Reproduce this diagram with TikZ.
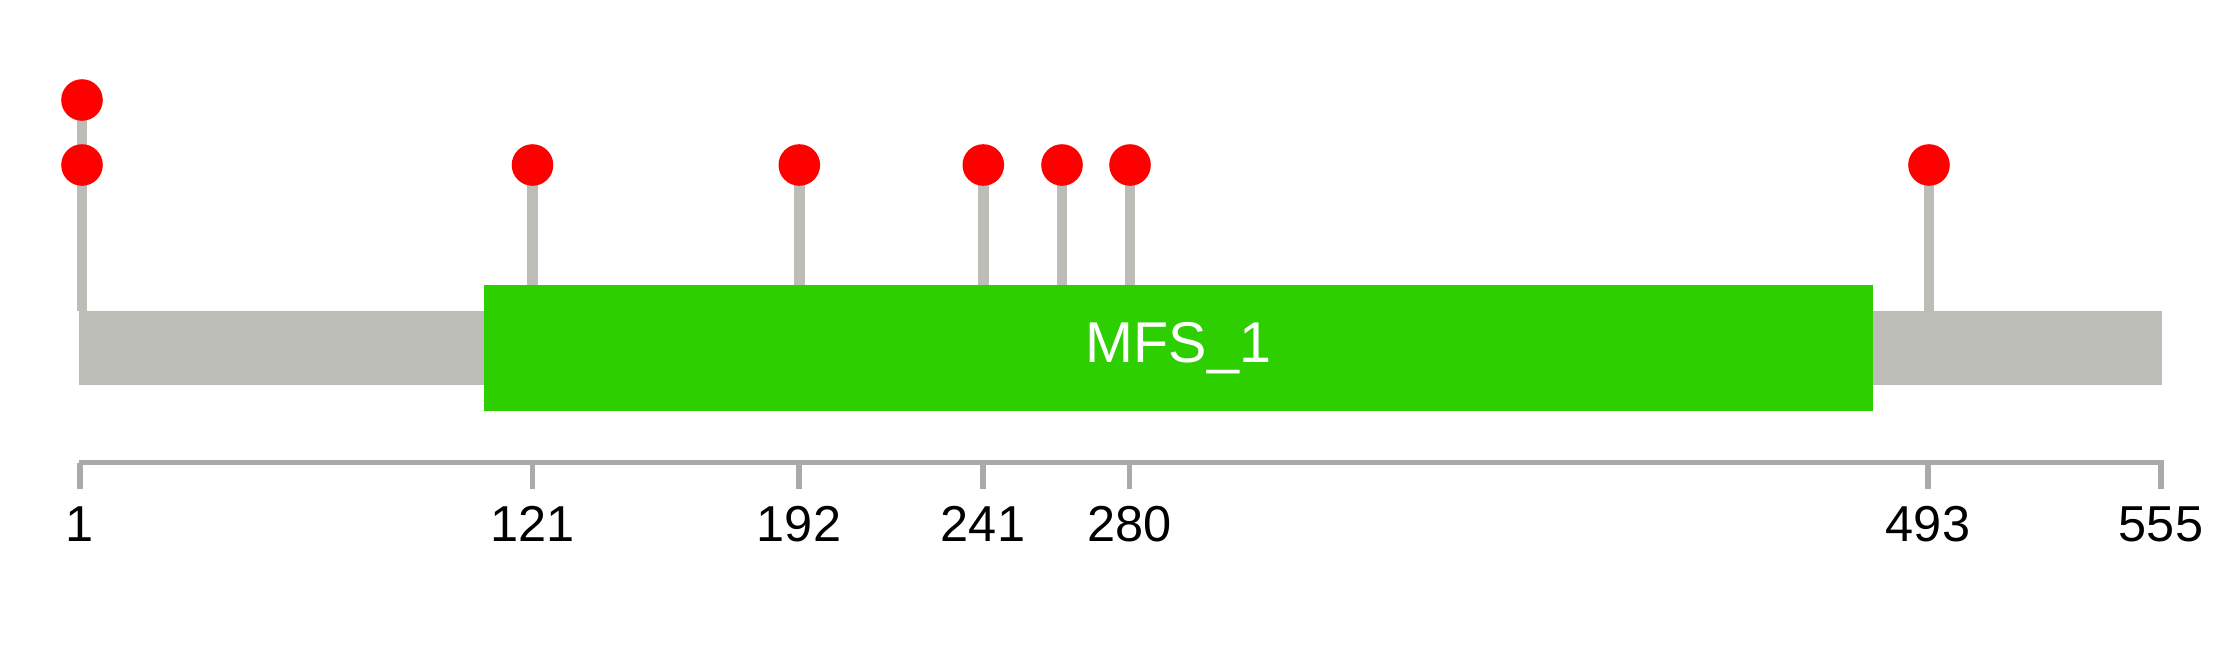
\documentclass[tikz,border=0pt]{standalone}
\usepackage{fontspec}
\setmainfont{Liberation Sans}
\definecolor{barcol}{RGB}{187,189,182}
\definecolor{domcol}{RGB}{46,207,0}
\definecolor{axcol}{RGB}{170,170,170}
\definecolor{dotcol}{RGB}{255,0,0}
\tikzset{
  protbar/.style={fill=barcol,draw=none,inner sep=0,outer sep=0,minimum width=2083.5pt,minimum height=73.5pt},
  dombox/.style={fill=domcol,draw=none,inner sep=0,outer sep=0,minimum width=1389pt,minimum height=125.7pt,text=white,font=\fontsize{57.5}{60}\selectfont},
  stem/.style={draw=barcol,line width=10.5pt},
  lolli/.style={circle,fill=dotcol,draw=none,inner sep=0,minimum size=41.6pt},
  axisline/.style={draw=axcol,line width=5pt},
  tickline/.style={draw=axcol,line width=5.5pt},
  ticklabel/.style={anchor=base,inner sep=0,font=\fontsize{50.5}{60}\selectfont},
}
\begin{document}
\begin{tikzpicture}[x=1pt,y=-1pt]
\useasboundingbox (0,0) rectangle (2239,645);
% lollipop heads (positions)
\coordinate (p1b) at (82,100);
\coordinate (p1) at (82,165);
\coordinate (p121) at (532.5,165);
\coordinate (p192) at (799.3,165);
\coordinate (p241) at (983.3,165);
\coordinate (p262) at (1062,165);
\coordinate (p280) at (1130,165);
\coordinate (p493) at (1929,165);
% bar tops
\coordinate (bartop) at (0,311);
\coordinate (domtop) at (0,285);
% stems
\draw[stem] (p1b) -- (p1b |- bartop);
\draw[stem] (p121) -- (p121 |- domtop);
\draw[stem] (p192) -- (p192 |- domtop);
\draw[stem] (p241) -- (p241 |- domtop);
\draw[stem] (p262) -- (p262 |- domtop);
\draw[stem] (p280) -- (p280 |- domtop);
\draw[stem] (p493) -- (p493 |- bartop);
% protein bar and domain
\node[protbar] (prot) at (1120.25,347.75) {};
\node[dombox] (mfs) at (1178.5,347.85) {MFS\_1};
% heads
\node[lolli] (m1b) at (p1b) {};
\node[lolli] (m1) at (p1) {};
\node[lolli] (m121) at (p121) {};
\node[lolli] (m192) at (p192) {};
\node[lolli] (m241) at (p241) {};
\node[lolli] (m262) at (p262) {};
\node[lolli] (m280) at (p280) {};
\node[lolli] (m493) at (p493) {};
% axis
\coordinate (axl) at (78.5,462.7);
\coordinate (axr) at (2163.5,462.7);
\draw[axisline] (axl) -- (axr);
\foreach \n/\x in {1/80,121/532.5,192/799,241/983,280/1129.5,493/1928,555/2161}{
  \coordinate (t\n) at (\x,462.7);
  \draw[tickline] (t\n) -- ++(0,26.6);
  \node[ticklabel] (l\n) at (\x,541.5) {\n};
}
\end{tikzpicture}
\end{document}
